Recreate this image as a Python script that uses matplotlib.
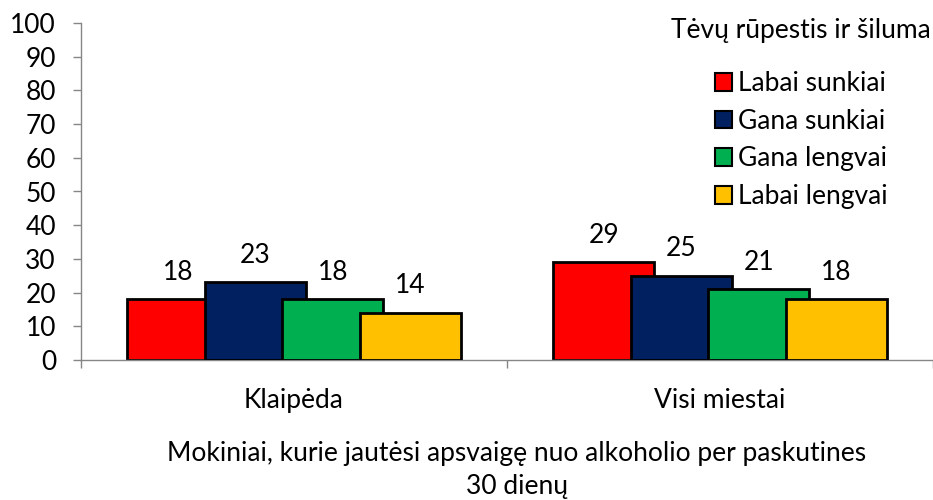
import matplotlib.pyplot as plt
import numpy as np
from matplotlib.patches import Patch

plt.rcParams['font.family'] = ['Lato', 'DejaVu Sans']

categories = ['Klaipėda', 'Visi miestai']
series_names = ['Labai sunkiai', 'Gana sunkiai', 'Gana lengvai', 'Labai lengvai']
values = [
    [18, 29],
    [23, 25],
    [18, 21],
    [14, 18],
]
colors = ['#FF0000', '#002060', '#00B050', '#FFC000']
legend_title = 'Tėvų rūpestis ir šiluma'
x_title = 'Mokiniai, kurie jautėsi apsvaigę nuo alkoholio per paskutines\n30 dienų'
y_ticks = np.arange(0, 101, 10)

FS = 19
AXIS_GRAY = '#868686'

fig = plt.figure(figsize=(9.33, 5.0), dpi=100)
ax = fig.add_axes([81 / 933, 140 / 500, 852 / 933, 337 / 500])

x = np.arange(len(categories))
bar_width = 0.237
step = 0.182
for i, (name, vals, color) in enumerate(zip(series_names, values, colors)):
    pos = x + (i - 1.5) * step
    ax.bar(pos, vals, width=bar_width, color=color, edgecolor='black',
           linewidth=2, label=name, zorder=2 + i)
    for px, v in zip(pos, vals):
        ax.annotate(str(v), (px, v), xytext=(0, 14), textcoords='offset points',
                    ha='center', va='baseline', fontsize=FS)

ax.set_xlim(-0.5, -0.5 + 852 / 431)
ax.set_ylim(0, 100)
ax.set_yticks(y_ticks)
ax.tick_params(axis='y', direction='out', length=6, width=1, color=AXIS_GRAY,
               labelsize=FS, pad=12)
ax.set_xticks(x)
ax.set_xticklabels(categories, fontsize=FS)
ax.set_xticks([-0.5, 0.5, 1.5], minor=True)
ax.tick_params(axis='x', which='major', length=0, pad=20)
ax.tick_params(axis='x', which='minor', direction='out', length=6, width=1,
               color=AXIS_GRAY)

for side in ['top', 'right']:
    ax.spines[side].set_visible(False)
for side in ['left', 'bottom']:
    ax.spines[side].set_color(AXIS_GRAY)
    ax.spines[side].set_linewidth(1)

handles = [Patch(facecolor=c, edgecolor='black', linewidth=1.5, label=n)
           for n, c in zip(series_names, colors)]
leg = fig.legend(handles=handles, title=legend_title, loc='upper right',
                 bbox_to_anchor=(1.008, 0.982), frameon=False, fontsize=FS,
                 title_fontsize=FS, handlelength=0.65, handleheight=0.65,
                 handletextpad=0.25, labelspacing=0.48, borderaxespad=0.15,
                 borderpad=0.2)
leg._legend_box.sep = 20

fig.text(517 / 933, 1 - 470 / 500, x_title, ha='center', va='center',
         fontsize=FS, linespacing=1.38)

fig.savefig('out.png', dpi=100)
